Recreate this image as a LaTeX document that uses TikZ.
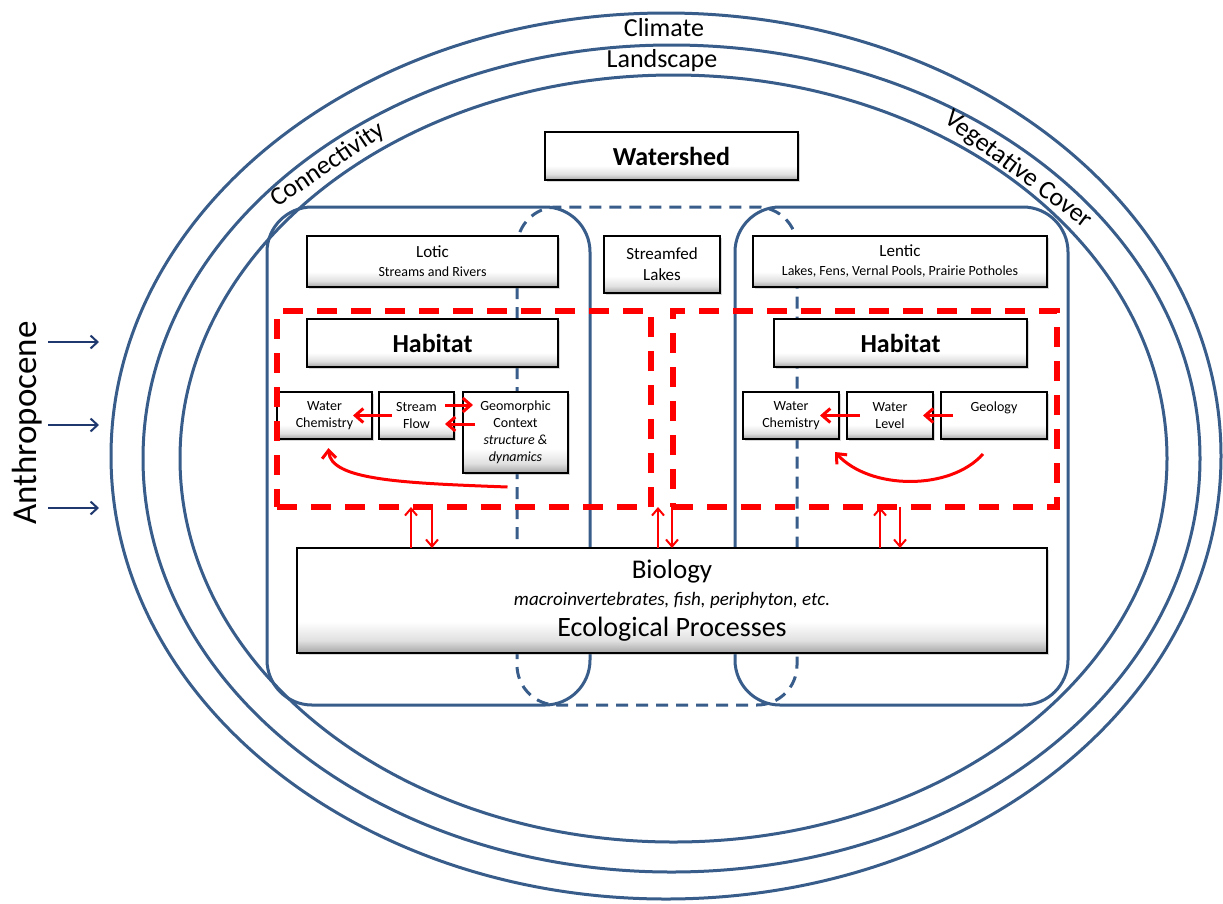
\documentclass[tikz,border=0pt]{standalone}
\usepackage{fontspec}
\setmainfont{Carlito}
\usetikzlibrary{arrows.meta, shadows}

\definecolor{ringblue}{RGB}{56,93,138}
\definecolor{anthroblue}{RGB}{31,56,110}
\pgfdeclareverticalshading{boxshade}{100bp}{color(0bp)=(black!35); color(25bp)=(black!35); color(31bp)=(black!12); color(40bp)=(white); color(100bp)=(white)}

\begin{document}
\begin{tikzpicture}[x=1pt, y=-1pt,
    bring/.style={draw=ringblue, line width=3pt},
    region/.style={draw=ringblue, line width=3pt, rounded corners=45pt},
    ebox/.style={draw=black, line width=1.5pt, shading=boxshade, drop shadow={shadow xshift=2pt, shadow yshift=-2pt, opacity=0.3}, align=center, inner sep=0pt, outer sep=0pt, font=\fontsize{14}{17}\selectfont},
    hframe/.style={draw=red, line width=6pt, dash pattern=on 20pt off 14pt, inner sep=0pt, outer sep=0pt},
    rflow/.style={red, line width=3pt, -{Straight Barb[length=8pt, width=14pt]}},
    rlink/.style={red, line width=2pt, -{Straight Barb[length=7pt, width=12pt]}},
    anarrow/.style={anthroblue, line width=2pt, -{Straight Barb[length=7pt, width=13pt]}},
    ringtext/.style={font=\fontsize{26}{30}\selectfont}]

                \useasboundingbox[fill=white] (0,0) rectangle (1223,903);

                % Draw the three rings
                \draw[bring] (666,456) ellipse [x radius=555, y radius=443];
                \draw[bring] (671.5,458.5) ellipse [x radius=528.5, y radius=413.5];
                \draw[bring] (673.5,458.5) ellipse [x radius=493.5, y radius=383.5];

                % Add labels to rings
                \node[ringtext] (climate) at (664,28) {Climate};
                \node[ringtext] (landscape) at (662,61) {Landscape};
                \node[ringtext, rotate=34] (connect) at (328,165) {Connectivity};
                \node[ringtext, rotate=-37] (vegcover) at (1018,170) {Vegetative Cover};

                % Anthropocene pressure from outside
                \node[font=\fontsize{35}{40}\selectfont, rotate=90, anchor=south, inner sep=0pt] (anthro) at (42,423) {Anthropocene};
                \foreach \y [count=\i] in {342,425,508} {
                    \coordinate (hit\i) at (99,\y);
                    \draw[anarrow, shorten <=6pt] (anthro.south |- hit\i) -- (hit\i);
                }

                % Draw the lotic, streamfed and lentic regions
                \draw[region] (267,207) rectangle (590,705);
                \draw[region] (735,207) rectangle (1068,705);
                \draw[region, dash pattern=on 12pt off 8pt, rounded corners=40pt] (517,207) rectangle (797,705);

                % Draw the boxes
                \node[ebox, minimum width=253pt, minimum height=48pt, font=\bfseries\fontsize{26}{30}\selectfont] (watershed) at (671.5,156) {Watershed};
                \node[ebox, minimum width=251pt, minimum height=51pt] (lotic) at (432.5,261.5) {{\fontsize{17}{20}\selectfont Lotic}\\[2pt] Streams and Rivers};
                \node[ebox, minimum width=116pt, minimum height=57pt, font=\fontsize{17}{21}\selectfont] (streamfed) at (662,264.5) {Streamfed\\Lakes};
                \node[ebox, minimum width=294pt, minimum height=51pt] (lentic) at (900,261.5) {{\fontsize{17}{20}\selectfont Lentic}\\[2pt] Lakes, Fens, Vernal Pools, Prairie Potholes};

                \node[ebox, minimum width=251pt, minimum height=48pt, font=\bfseries\fontsize{26}{30}\selectfont] (habL) at (432.5,343) {Habitat};
                \node[ebox, minimum width=253pt, minimum height=48pt, font=\bfseries\fontsize{26}{30}\selectfont] (habR) at (900.5,343) {Habitat};

                \node[ebox, minimum width=95pt, minimum height=47pt] (wcL) at (324.5,415.5) {Water\\Chemistry};
                \node[ebox, minimum width=75pt, minimum height=47pt] (sfL) at (416.5,415.5) {Stream\\Flow};
                \node[ebox, minimum width=105pt, minimum height=81pt] (geoL) at (515.5,432.5) {Geomorphic\\Context\\\textit{structure \&}\\\textit{dynamics}};
                \node[ebox, minimum width=96pt, minimum height=47pt] (wcR) at (791,415.5) {Water\\Chemistry};
                \node[ebox, minimum width=86pt, minimum height=47pt] (wlR) at (890,415.5) {Water\\Level};
                \node[ebox, minimum width=106pt, minimum height=47pt] (geoR) at (994,415.5) {Geology\\\mbox{}};

                \node[ebox, minimum width=750pt, minimum height=105pt, font=\fontsize{27}{29}\selectfont] (bio) at (672,600.5) {Biology\\[-2pt] {\fontsize{19}{22}\selectfont\itshape macroinvertebrates, fish, periphyton, etc.}\\[2pt] {\fontsize{28}{32}\selectfont Ecological Processes}};

                % Habitat frames
                \node[hframe, minimum width=374pt, minimum height=196pt] (hfL) at (464,409) {};
                \node[hframe, minimum width=384pt, minimum height=196pt] (hfR) at (865,409) {};

                % Arrows inside the habitat frames
                \draw[rflow] ([xshift=13pt]sfL.west) -- ([xshift=-19pt]wcL.east);
                \draw[rflow] ([xshift=-9pt, yshift=10.5pt]sfL.east) -- ([xshift=10pt, yshift=27.5pt]geoL.west);
                \draw[rflow] ([xshift=12pt, yshift=8.5pt]geoL.west) -- ([xshift=-9pt, yshift=-8.5pt]sfL.east);
                \draw[rflow] ([xshift=-8pt, yshift=-14pt]geoL.south) .. controls +(-107,-4) and +(2,32) .. ([xshift=4pt, yshift=-9pt]wcL.south);
                \draw[rflow] ([xshift=13pt]wlR.west) -- ([xshift=-19pt]wcR.east);
                \draw[rflow] ([xshift=12pt]geoR.west) -- ([xshift=-10pt]wlR.east);
                \draw[rflow] ([xshift=-11pt, yshift=-15pt]geoR.south) .. controls +(-33,37) and +(35,38) .. ([xshift=-4pt, yshift=-13pt]wcR.south east);

                % Links between habitat and biology
                \draw[rlink] ([xshift=114pt]bio.north west) -- ([xshift=134pt]hfL.south west);
                \draw[rlink] ([xshift=155pt]hfL.south west) -- ([xshift=135pt]bio.north west);
                \draw[rlink] ([xshift=361pt]bio.north west) -- ([xshift=7pt]hfL.south east);
                \draw[rlink] ([xshift=-1pt]hfR.south west) -- ([xshift=375pt]bio.north west);
                \draw[rlink] ([xshift=583pt]bio.north west) -- ([xshift=207pt]hfR.south west);
                \draw[rlink] ([xshift=227pt]hfR.south west) -- ([xshift=603pt]bio.north west);

                \end{tikzpicture}
\end{document}
